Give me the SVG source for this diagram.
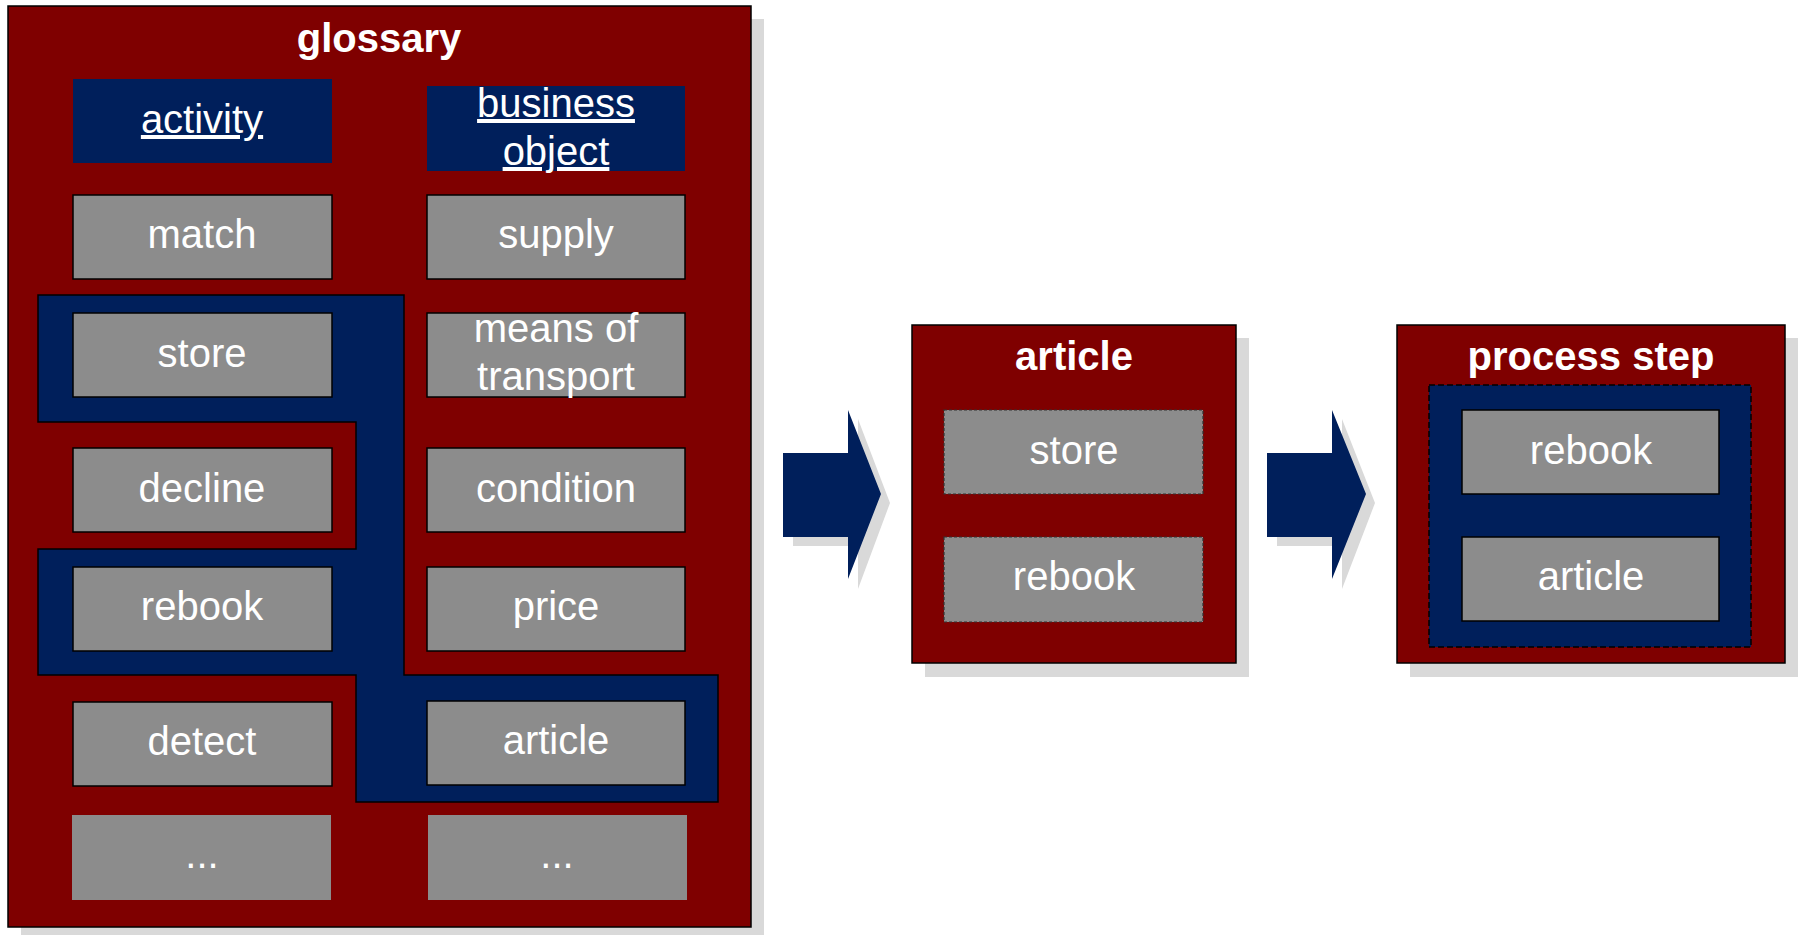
<svg xmlns="http://www.w3.org/2000/svg" width="1798" height="935" viewBox="0 0 1798 935">
<style>
.bg{fill:#ffffff}
.shadow{fill:#d9d9d9}
.frame{fill:#7f0000;stroke:#000;stroke-width:1.5}
.navy{fill:#001f5b}
.navyS{fill:#001f5b;stroke:#000;stroke-width:1.5}
.navyD{fill:#001f5b;stroke:#000;stroke-width:1.5;stroke-dasharray:6 3}
.box{fill:#8c8c8c;stroke:#000;stroke-width:1.5}
.boxN{fill:#8c8c8c}
.boxD{fill:#8c8c8c;stroke:#333;stroke-width:1.2;stroke-dasharray:3 2}
.t{font-family:"Liberation Sans",Arial,sans-serif;font-size:40px;fill:#fff;text-anchor:middle}
.h{font-family:"Liberation Sans",Arial,sans-serif;font-size:40px;font-weight:bold;fill:#fff;text-anchor:middle}
.u{text-decoration:underline}
</style>
<rect class="bg" x="0" y="0" width="1798" height="935"/>

<g id="glossary">
<rect class="shadow" x="21" y="19" width="743" height="922"/>
<rect class="frame" x="8" y="6" width="743" height="921"/>
<text class="h" x="379" y="52">glossary</text>
</g>

<g id="group-highlight">
<polygon class="navyS" points="38,295 404,295 404,675 718,675 718,802 356,802 356,675 38,675 38,549 356,549 356,422 38,422"/>
</g>

<g id="activity">
<rect class="navy" x="73" y="79" width="259" height="84"/>
<text class="t u" x="202" y="133">activity</text>
</g>
<g id="business-object">
<rect class="navy" x="427" y="86" width="258" height="85"/>
<text class="t u" x="556" y="117">business</text>
<text class="t u" x="556" y="165">object</text>
</g>

<g id="match"><rect class="box" x="73" y="195" width="259" height="84"/><text class="t" x="202" y="248">match</text></g>
<g id="supply"><rect class="box" x="427" y="195" width="258" height="84"/><text class="t" x="556" y="248">supply</text></g>
<g id="store"><rect class="box" x="73" y="313" width="259" height="84"/><text class="t" x="202" y="367">store</text></g>
<g id="means-of-transport"><rect class="box" x="427" y="313" width="258" height="84"/><text class="t" x="556" y="342">means of</text><text class="t" x="556" y="390">transport</text></g>
<g id="decline"><rect class="box" x="73" y="448" width="259" height="84"/><text class="t" x="202" y="502">decline</text></g>
<g id="condition"><rect class="box" x="427" y="448" width="258" height="84"/><text class="t" x="556" y="502">condition</text></g>
<g id="rebook"><rect class="box" x="73" y="567" width="259" height="84"/><text class="t" x="202" y="620">rebook</text></g>
<g id="price"><rect class="box" x="427" y="567" width="258" height="84"/><text class="t" x="556" y="620">price</text></g>
<g id="detect"><rect class="box" x="73" y="702" width="259" height="84"/><text class="t" x="202" y="755">detect</text></g>
<g id="article"><rect class="box" x="427" y="701" width="258" height="84"/><text class="t" x="556" y="754">article</text></g>
<g id="more-1"><rect class="boxN" x="72" y="815" width="259" height="85"/><text class="t" x="202" y="868">...</text></g>
<g id="more-2"><rect class="boxN" x="428" y="815" width="259" height="85"/><text class="t" x="557" y="868">...</text></g>

<g id="connectors">
<polygon class="shadow" points="793,462 858,462 858,419 890,503 858,589 858,546 793,546"/>
<polygon class="navy" points="783,453 848,453 848,410 881,494 848,579 848,537 783,537"/>
<polygon class="shadow" points="1277,462 1342,462 1342,419 1375,503 1342,589 1342,546 1277,546"/>
<polygon class="navy" points="1267,453 1332,453 1332,410 1366,494 1332,579 1332,537 1267,537"/>
</g>

<g id="article-box">
<rect class="shadow" x="925" y="338" width="324" height="339"/>
<rect class="frame" x="912" y="325" width="324" height="338"/>
<text class="h" x="1074" y="370">article</text>
<rect class="boxD" x="944" y="410" width="259" height="84"/>
<text class="t" x="1074" y="464">store</text>
<rect class="boxD" x="944" y="537" width="259" height="85"/>
<text class="t" x="1074" y="590">rebook</text>
</g>

<g id="process-step-box">
<rect class="shadow" x="1410" y="338" width="388" height="339"/>
<rect class="frame" x="1397" y="325" width="388" height="338"/>
<text class="h" x="1591" y="370">process step</text>
<rect class="navyD" x="1429" y="385" width="322" height="262"/>
<rect class="box" x="1462" y="410" width="257" height="84"/>
<text class="t" x="1591" y="464">rebook</text>
<rect class="box" x="1462" y="537" width="257" height="84"/>
<text class="t" x="1591" y="590">article</text>
</g>
</svg>
